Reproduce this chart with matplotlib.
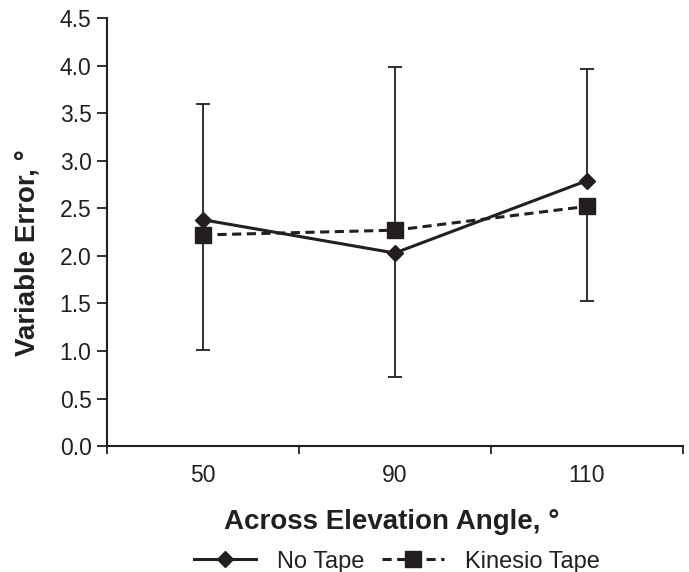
import numpy as np
import matplotlib
matplotlib.use("Agg")
import matplotlib.pyplot as plt

angles = ['50', '90', '110']
no_tape = [2.38, 2.03, 2.79]
kinesio = [2.22, 2.27, 2.52]
# only one side of each bar is drawn in the original figure
no_tape_err_lo = [0, 1.30, 0]
no_tape_err_hi = [1.22, 0, 1.17]
kinesio_err_lo = [1.21, 0, 0.99]
kinesio_err_hi = [0, 1.72, 0]

plt.rcParams['font.family'] = ['Liberation Sans', 'DejaVu Sans']
col = '#231f20'

fig = plt.figure(figsize=(6.89, 5.72), dpi=100)
ax = fig.add_axes([0.155, 0.22, 0.836, 0.7485])
x = np.arange(len(angles))

ax.errorbar(x, no_tape, yerr=[no_tape_err_lo, no_tape_err_hi], fmt='none',
            ecolor=col, elinewidth=1.3, capsize=5, capthick=1.3, zorder=2)
ax.errorbar(x, kinesio, yerr=[kinesio_err_lo, kinesio_err_hi], fmt='none',
            ecolor=col, elinewidth=1.3, capsize=5, capthick=1.3, zorder=2)
ax.plot(x, no_tape, '-', color=col, lw=2.2, marker='D', markersize=8.5,
        label='No Tape', zorder=3)
ax.plot(x, kinesio, color=col, lw=2.2, ls=(0, (3, 1.8)), marker='s',
        markersize=12, label='Kinesio Tape', zorder=3)

ax.set_xlim(-0.5, 2.5)
ax.set_ylim(0, 4.5)
ax.set_yticks(np.arange(0, 4.51, 0.5))
ax.set_yticklabels(['%.1f' % v for v in np.arange(0, 4.51, 0.5)])
ax.set_xticks(x)
ax.set_xticklabels(angles)
ax.set_xticks([-0.5, 0.5, 1.5, 2.5], minor=True)
ax.tick_params(axis='x', which='major', length=0, pad=13, labelsize=16.5,
               colors=col)
ax.tick_params(axis='x', which='minor', length=6, width=1.3, direction='out',
               color=col)
ax.tick_params(axis='y', length=7, width=1.3, direction='out', labelsize=16.5,
               colors=col, pad=4)
for s in ['top', 'right']:
    ax.spines[s].set_visible(False)
for s in ['left', 'bottom']:
    ax.spines[s].set_linewidth(1.5)
    ax.spines[s].set_color(col)

ax.set_ylabel('Variable Error, °', fontsize=20, fontweight='bold', color=col)
ax.yaxis.set_label_coords(-0.115, 0.453)
ax.set_xlabel('Across Elevation Angle, °', fontsize=20, fontweight='bold',
              color=col)
ax.xaxis.set_label_coords(0.495, -0.147)
ax.legend(loc='center', bbox_to_anchor=(397 / 689, 0.018), ncol=2,
          bbox_transform=fig.transFigure, frameon=False, fontsize=17,
          handlelength=2.6, handletextpad=0.9, columnspacing=0.77,
          labelcolor=col, borderpad=0)

plt.savefig('out.png', dpi=100)
